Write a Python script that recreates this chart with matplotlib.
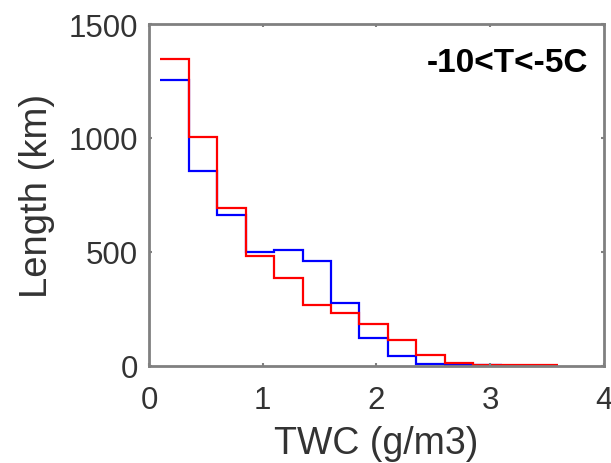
import matplotlib
matplotlib.use("Agg")
import matplotlib.pyplot as plt
import numpy as np

plt.rcParams['font.family'] = ['Liberation Sans', 'DejaVu Sans']

# bin edges of the TWC histogram (g/m3)
edges = [0.1, 0.35, 0.6, 0.85, 1.1, 1.35, 1.6, 1.85, 2.1, 2.35, 2.6, 2.85, 3.1, 3.35, 3.6]

# path length per bin (km)
blue_vals = [1255, 855, 662, 497, 507, 457, 274, 120, 42, 5, 2, 1]
red_vals = [1348, 1002, 692, 482, 386, 265, 230, 183, 113, 47, 13, 3, 1, 1]

label_text = "-10<T<-5C"
xticks = [0, 1, 2, 3, 4]
yticks = [0, 500, 1000, 1500]

fig = plt.figure(figsize=(6.11, 4.64), dpi=100)
ax = fig.add_axes([0.2439, 0.2101, 0.7446, 0.7360])

ax.stairs(blue_vals, edges[:len(blue_vals) + 1], baseline=None, color='#0000ff', lw=1.6)
ax.stairs(red_vals, edges[:len(red_vals) + 1], baseline=None, color='#ff0000', lw=1.6)

ax.set_xlim(0, 4)
ax.set_ylim(0, 1500)
ax.set_xticks(xticks)
ax.set_yticks(yticks)

gray = '#333333'
for s in ax.spines.values():
    s.set_color('#808080')
    s.set_linewidth(2.0)
ax.tick_params(direction='in', top=True, right=True, length=2.5, width=1.5,
               color='#808080', labelsize=22.5, labelcolor=gray, pad=8)
ax.tick_params(axis='x', pad=14)

ax.set_xlabel("TWC (g/m3)", fontsize=27, color=gray, labelpad=7)
ax.set_ylabel("Length (km)", fontsize=27.5, color=gray, labelpad=10)

ax.text(0.965, 0.862, label_text, transform=ax.transAxes, ha='right', va='baseline',
        fontsize=24, fontweight='bold', color='black')

fig.savefig("out.png", dpi=100)
